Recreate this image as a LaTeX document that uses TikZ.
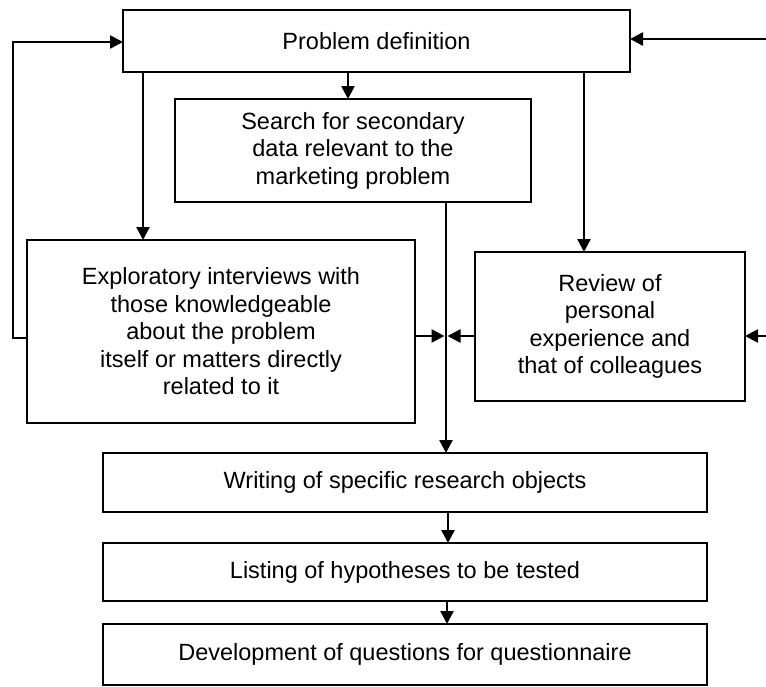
\documentclass[tikz,border=0pt]{standalone}
\usepackage{fontspec}
\setmainfont{Liberation Sans}
\usetikzlibrary{arrows.meta}
\begin{document}
\begin{tikzpicture}[x=1pt,y=-1pt,
  txt/.style={font=\fontsize{23.5}{27.5}\selectfont, align=center},
  box/.style={txt, draw, line width=2.5pt, inner sep=0pt, outer sep=0pt},
  arr/.style={line width=2.5pt, -{Triangle[length=13pt,width=13pt]}}]
\useasboundingbox (0,0) rectangle (766,686);

% boxes
\node[box, minimum width=507pt, minimum height=62pt] (pd) at (376.5,41) {Problem definition};
\node[box, minimum width=356pt, minimum height=103pt] (srch) at (353,150.5)
  {Search for secondary\\data relevant to the\\marketing problem};
\node[box, minimum width=388pt, minimum height=183pt] (expl) at (221,331.5)
  {Exploratory interviews with\\those knowledgeable\\about the problem\\itself or matters directly\\related to it};
\node[box, minimum width=270pt, minimum height=149pt] (rev) at (610,326.5)
  {Review of\\personal\\experience and\\that of colleagues};
\node[box, minimum width=604pt, minimum height=59pt] (wr) at (405,482.5)
  {Writing of specific research objects};
\node[box, minimum width=604pt, minimum height=58pt] (lst) at (405,572)
  {Listing of hypotheses to be tested};
\node[box, minimum width=604pt, minimum height=61pt] (dev) at (405,654.5)
  {Development of questions for questionnaire};

% helper coordinates
\coordinate (spine) at (446,0);
\coordinate (midrow) at (0,336);
\coordinate (rightedge) at (766,0);

% from problem definition downwards
\draw[arr] ([xshift=-5pt]pd.south -| srch.north) -- ([xshift=-5pt]srch.north);
\draw[arr] ([xshift=20pt]pd.south west) -- ([xshift=116pt]expl.north west);
\draw[arr] ([xshift=-46pt]pd.south east) -- ([xshift=109pt]rev.north west);

% feedback loops into problem definition
\draw[arr] ([yshift=-6.5pt]expl.west) -- ++(-14,0) |- ([yshift=-1pt]pd.west);
\draw[arr] ([yshift=2pt]rightedge |- pd.east) -- ([yshift=2pt]pd.east);

% central spine
\draw[arr] (srch.south -| spine) -- (wr.north -| spine);
\draw[arr] (expl.east |- midrow) -- ([xshift=-1.5pt]spine |- midrow);
\draw[arr] (rev.west |- midrow) -- ([xshift=1.5pt]spine |- midrow);
\draw[arr] (rightedge |- midrow) -- (rev.east |- midrow);

% lower chain
\draw[arr] ([xshift=2pt]wr.south -| spine) -- ([xshift=2pt]lst.north -| spine);
\draw[arr] ([xshift=1pt]lst.south -| spine) -- ([xshift=1pt]dev.north -| spine);
\end{tikzpicture}
\end{document}
